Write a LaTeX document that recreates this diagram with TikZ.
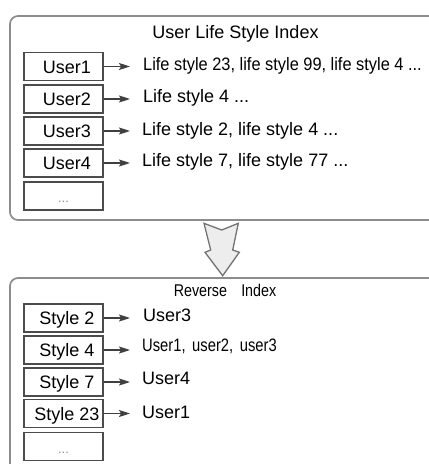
\documentclass[tikz,border=0pt]{standalone}
\usepackage{fontspec}
\setmainfont{Liberation Sans}
\usetikzlibrary{arrows.meta}
% small left padding so key labels sit a little right of centre
\newcommand\kpad{\hspace*{7pt}}
\begin{document}
\begin{tikzpicture}[x=1pt,y=-1pt,
  panel/.style={draw=black!45, line width=1.7pt, rounded corners=8pt},
  keybox/.style={draw=black!70, line width=1.5pt, minimum width=79pt,
    minimum height=28pt, inner sep=0pt, text height=13pt, text depth=0pt,
    font=\fontsize{18}{20}\selectfont},
  dotbox/.style={keybox, text=black!45, font=\fontsize{13}{15}\selectfont},
  entry/.style={anchor=base west, inner sep=0pt, font=\fontsize{18}{20}\selectfont},
  heading/.style={anchor=base, inner sep=0pt},
  link/.style={draw=black!75, line width=1.1pt,
    -{Stealth[length=11pt,width=7pt,inset=2pt]}},
  bigarrow/.style={fill=black!7, draw=black!55, line width=1.3pt, line join=miter},
]
\useasboundingbox (0,0) rectangle (429,464);
\clip (0,0) rectangle (429,464);

% ---------- forward index panel ----------
\draw[panel] (10,16) rectangle (445,220);
\node[heading, font=\fontsize{18}{20}\selectfont] (t1) at (235.5,38.5) {User Life Style Index};

\node[keybox] (u1) at (63.5,66.5) {\kpad User1};
\node[keybox] (u2) at (63.5,99)   {\kpad User2};
\node[keybox] (u3) at (63.5,131)  {\kpad User3};
\node[keybox] (u4) at (63.5,163)  {\kpad User4};
\node[dotbox] (u5) at (63.5,196)  {...};

\node[entry] (l1) at (143,70.3)
  {\scalebox{0.91}[1]{Life style 23, life style 99, life style 4 ...}};
\node[entry] (l2) at (143,102.7) {Life style 4 ...};
\node[entry] (l3) at (142,135)   {Life style 2, life style 4 ...};
\node[entry] (l4) at (142,166.7) {Life style 7, life style 77 ...};

\coordinate (a1) at (130,66.5);
\coordinate (a2) at (130,99);
\coordinate (a3) at (130,131);
\coordinate (a4) at (130,163);
\draw[link] (u1) -- (a1);
\draw[link] (u2) -- (a2);
\draw[link] (u3) -- (a3);
\draw[link] (u4) -- (a4);

% ---------- transformation arrow ----------
\draw[bigarrow] (204,223.3) -- (221.7,230) -- (238.3,223.3) -- (232.7,250)
  -- (239.3,252.3) -- (222.7,275.7) -- (205,252.3) -- (210.7,250) -- cycle;

% ---------- reverse index panel ----------
\draw[panel] (10,278) rectangle (445,490);
\node[heading, font=\fontsize{17}{19}\selectfont] (t2) at (225,296.7)
  {\scalebox{0.84}[1]{Reverse\hspace{17pt}Index}};

\node[keybox] (s1) at (63.5,318)   {\kpad Style 2};
\node[keybox] (s2) at (63.5,350)   {\kpad Style 4};
\node[keybox] (s3) at (63.5,382)   {\kpad Style 7};
\node[keybox] (s4) at (63.5,413.5) {\kpad Style 23};
\node[dotbox] (s5) at (63.5,446.5) {...};

\node[entry] (r1) at (143,321.7) {User3};
\node[entry] (r2) at (142,351.7)
  {\scalebox{0.82}[1]{User1,\hspace{8pt}user2,\hspace{8pt}user3}};
\node[entry] (r3) at (142,384)   {User4};
\node[entry] (r4) at (142,418.3) {User1};

\coordinate (b1) at (130,318);
\coordinate (b2) at (130,350);
\coordinate (b3) at (130,382);
\coordinate (b4) at (130,413.5);
\draw[link] (s1) -- (b1);
\draw[link] (s2) -- (b2);
\draw[link] (s3) -- (b3);
\draw[link] (s4) -- (b4);
\end{tikzpicture}
\end{document}
